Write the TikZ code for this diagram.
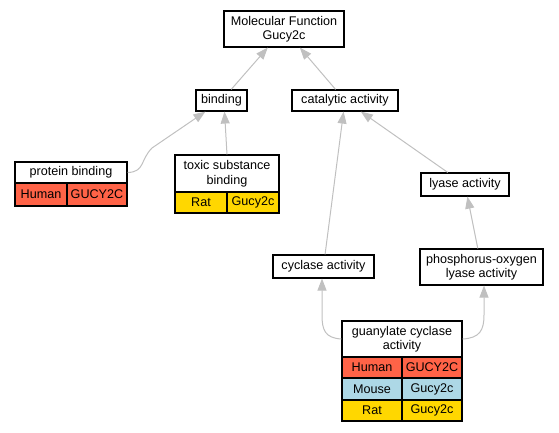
\documentclass[tikz,border=0pt]{standalone}
\usepackage{fontspec}
\setmainfont{Liberation Sans}
\usetikzlibrary{arrows.meta,calc}
\definecolor{human}{HTML}{FF6347}
\definecolor{mouse}{HTML}{ADD8E6}
\definecolor{rat}{HTML}{FFD700}
\definecolor{edgegray}{HTML}{C0C0C0}
\tikzset{
  box/.style={draw, line width=1.15pt, fill=white, rectangle, inner sep=0pt, align=center,
    font=\fontsize{12.6}{14.5}\selectfont},
  cell/.style={box},
  edge/.style={draw=edgegray, line width=1pt, -{Triangle[length=12pt,width=9pt]}, shorten >=0pt}
}
\begin{document}
\begin{tikzpicture}[x=1pt,y=-1pt]
\useasboundingbox (0,0) rectangle (559,432);
% nodes
\node[box, minimum width=120, minimum height=36] (mf) at (284,29) {Molecular Function\\Gucy2c};
\node[box, minimum width=51, minimum height=21] (bind) at (221.5,100.5) {binding};
\node[box, minimum width=106, minimum height=21] (cat) at (345,100.5) {catalytic activity};
% protein binding
\node[box, minimum width=112, minimum height=21] (pbh) at (71,172.5) {protein binding};
\node[cell, fill=human, minimum width=52, minimum height=23] (pb1) at (41,194.5) {Human};
\node[cell, fill=human, minimum width=60, minimum height=23] (pb2) at (97,194.5) {GUCY2C};
% toxic substance binding
\node[box, minimum width=104, minimum height=37] (tsh) at (227,173.5) {toxic substance\\binding};
\node[cell, fill=rat, minimum width=52, minimum height=21] (ts1) at (201,202.5) {Rat};
\node[cell, fill=rat, minimum width=52, minimum height=21] (ts2) at (253,202.5) {Gucy2c};
% lyase
\node[box, minimum width=88, minimum height=23] (lya) at (465,184.5) {lyase activity};
\node[box, minimum width=101, minimum height=23] (cyc) at (323.5,266.5) {cyclase activity};
\node[box, minimum width=123, minimum height=36] (pho) at (481.5,267) {phosphorus-oxygen\\lyase activity};
% guanylate cyclase activity
\node[box, minimum width=120, minimum height=36] (gch) at (402,339) {guanylate cyclase\\activity};
\node[cell, fill=human, minimum width=60, minimum height=21] (gc1) at (372,367.5) {Human};
\node[cell, fill=human, minimum width=60, minimum height=21] (gc2) at (432,367.5) {GUCY2C};
\node[cell, fill=mouse, minimum width=60, minimum height=22] (gc3) at (372,389) {Mouse};
\node[cell, fill=mouse, minimum width=60, minimum height=22] (gc4) at (432,389) {Gucy2c};
\node[cell, fill=rat, minimum width=60, minimum height=21] (gc5) at (372,410.5) {Rat};
\node[cell, fill=rat, minimum width=60, minimum height=21] (gc6) at (432,410.5) {Gucy2c};
% edges
\draw[edge] (bind) -- (mf);
\draw[edge] (cat) -- (mf);
\draw[edge] (tsh.north) -- ($(bind.south)+(3,0)$);
\draw[edge] (pbh.east) .. controls (145,172) and (140,160) .. (152,148) -- ($(bind.south west)+(10,0)$);
\draw[edge] (cyc) -- (cat);
\draw[edge] (lya) -- (cat);
\draw[edge] (pho) -- (lya);
\draw[edge] (gch.west) .. controls (325,338) and (322,330) .. (322,315) -- ($(cyc.south)+(-1.5,0)$);
\draw[edge] (gch.east) .. controls (480,338) and (484,330) .. (484,315) -- ($(pho.south)+(2.5,0)$);
\end{tikzpicture}
\end{document}
